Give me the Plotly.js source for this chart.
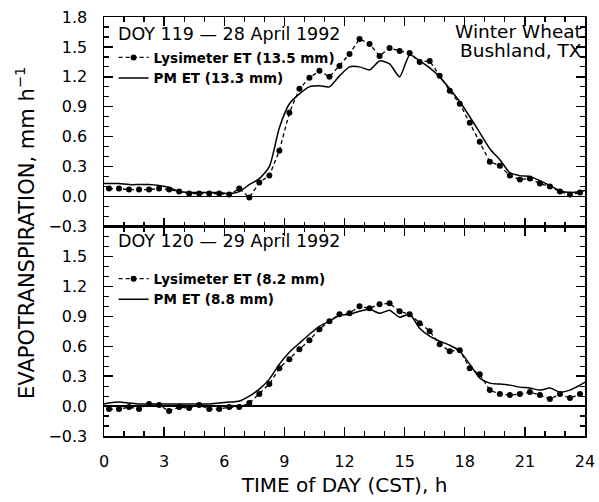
<!DOCTYPE html>
<html>
<head>
<meta charset="utf-8">
<script src="https://cdn.plot.ly/plotly-3.0.1.min.js"></script>
<style>
html,body{margin:0;padding:0;background:#fff;}
#chart{width:599px;height:502px;}
</style>
</head>
<body>
<div id="chart"></div>
<script>
// Half-hourly lysimeter times (h, CST)
const hours = [0.25,0.75,1.25,1.75,2.25,2.75,3.25,3.75,4.25,4.75,5.25,5.75,6.25,6.75,7.25,7.75,8.25,8.75,9.25,9.75,10.25,10.75,11.25,11.75,12.25,12.75,13.25,13.75,14.25,14.75,15.25,15.75,16.25,16.75,17.25,17.75,18.25,18.75,19.25,19.75,20.25,20.75,21.25,21.75,22.25,22.75,23.25,23.75];
// PM model times (h, CST)
const pmHours = [0,0.25,0.75,1.25,1.75,2.25,2.75,3.25,3.75,4.25,4.75,5.25,5.75,6.25,6.75,7.25,7.75,8.25,8.75,9.25,9.75,10.25,10.75,11.25,11.75,12.25,12.75,13.25,13.75,14.25,14.75,15.25,15.75,16.25,16.75,17.25,17.75,18.25,18.75,19.25,19.75,20.25,20.75,21.25,21.75,22.25,22.75,23.25,23.75,24];

// DOY 119 - 28 April 1992
const lysET119 = [0.08,0.08,0.07,0.07,0.07,0.08,0.07,0.05,0.03,0.03,0.03,0.03,0.02,0.08,-0.01,0.14,0.21,0.46,0.84,1.08,1.19,1.26,1.20,1.31,1.43,1.58,1.53,1.41,1.49,1.46,1.44,1.35,1.36,1.21,1.06,0.93,0.74,0.55,0.35,0.31,0.21,0.17,0.18,0.13,0.10,0.05,0.02,0.04];
const pmET119 = [0.13,0.13,0.13,0.12,0.12,0.12,0.11,0.09,0.05,0.04,0.04,0.04,0.04,0.03,0.05,0.12,0.18,0.30,0.69,0.93,1.03,1.10,1.11,1.10,1.21,1.30,1.30,1.27,1.36,1.33,1.20,1.42,1.36,1.29,1.20,1.08,0.95,0.80,0.64,0.48,0.37,0.24,0.21,0.20,0.16,0.11,0.06,0.04,0.05,0.06];

// DOY 120 - 29 April 1992
const lysET120 = [-0.03,-0.03,-0.01,-0.03,0.02,0.01,-0.05,-0.01,-0.02,0.01,-0.03,-0.03,-0.01,-0.01,0.03,0.12,0.22,0.38,0.47,0.57,0.66,0.77,0.85,0.92,0.93,1.00,0.98,1.02,1.03,0.95,0.92,0.83,0.75,0.62,0.55,0.56,0.38,0.32,0.16,0.12,0.11,0.12,0.14,0.11,0.07,0.12,0.08,0.12];
const pmET120 = [0.02,0.03,0.04,0.03,0.02,0.02,0.02,0.02,0.02,0.02,0.02,0.02,0.03,0.04,0.05,0.10,0.17,0.27,0.42,0.54,0.63,0.72,0.80,0.85,0.91,0.92,0.95,0.97,0.93,0.96,0.89,0.92,0.78,0.70,0.65,0.61,0.55,0.42,0.28,0.23,0.22,0.21,0.19,0.18,0.16,0.18,0.14,0.16,0.21,0.24];

const names119 = ['Lysimeter ET (13.5 mm)', 'PM ET (13.3 mm)'];
const names120 = ['Lysimeter ET (8.2 mm)', 'PM ET (8.8 mm)'];
const xTicks = [0,3,6,9,12,15,18,21,24];
const yTicksTop = [-0.3,0,0.3,0.6,0.9,1.2,1.5,1.8];
const yTicksBottom = [-0.3,0,0.3,0.6,0.9,1.2,1.5];

const FONT = 'DejaVu Sans, Arial, sans-serif';

const lysStyle = {mode:'lines+markers', line:{color:'#000', width:1.3, dash:'4px,3px'}, marker:{color:'#000', size:6, symbol:'circle'}};
const pmStyle = {mode:'lines', line:{color:'#000', width:1.5, shape:'spline', smoothing:0.6}};

const traces = [
  Object.assign({x:hours, y:lysET119, name:names119[0], xaxis:'x2', yaxis:'y2', legend:'legend'}, lysStyle),
  Object.assign({x:pmHours, y:pmET119, name:names119[1], xaxis:'x2', yaxis:'y2', legend:'legend'}, pmStyle),
  Object.assign({x:hours, y:lysET120, name:names120[0], xaxis:'x', yaxis:'y', legend:'legend2'}, lysStyle),
  Object.assign({x:pmHours, y:pmET120, name:names120[1], xaxis:'x', yaxis:'y', legend:'legend2'}, pmStyle)
];

const xBase = {
  range:[0,24], tickvals:xTicks, ticks:'inside', ticklen:9, tickwidth:1.3, tickcolor:'#000',
  minor:{dtick:1, ticks:'inside', ticklen:5, tickcolor:'#000', tickwidth:1.2},
  showline:true, linecolor:'#000', linewidth:1.5, mirror:'ticks',
  showgrid:false, zeroline:false, fixedrange:true
};
const yBase = {
  range:[-0.3,1.8], ticks:'inside', ticklen:9, tickwidth:1.3, tickcolor:'#000',
  minor:{dtick:0.1, tick0:0, ticks:'inside', ticklen:5, tickcolor:'#000', tickwidth:1.2},
  showline:true, linecolor:'#000', linewidth:1.5, mirror:'ticks',
  showgrid:false, zeroline:true, zerolinecolor:'#000', zerolinewidth:1.2,
  tickformat:'.1f', ticklabelstandoff:12, fixedrange:true
};

const legendBase = {xanchor:'left', yanchor:'top', bgcolor:'rgba(0,0,0,0)', borderwidth:0,
  font:{size:13.5, weight:'bold'}, tracegroupgap:0, itemwidth:30};

const layout = {
  width:599, height:502,
  margin:{l:104, r:14, t:17, b:66},
  paper_bgcolor:'#fff', plot_bgcolor:'#fff',
  font:{family:FONT, color:'#000', size:15},
  showlegend:true,
  xaxis: Object.assign({}, xBase, {anchor:'y', domain:[0,1], showticklabels:true, ticklabelstandoff:10,
    tickfont:{size:16},
    title:{text:'TIME of DAY (CST), h', font:{size:20}, standoff:8}}),
  xaxis2: Object.assign({}, xBase, {anchor:'y2', domain:[0,1], showticklabels:false, matches:'x'}),
  yaxis: Object.assign({}, yBase, {domain:[0,0.5], anchor:'x', tickvals:yTicksBottom, tickfont:{size:16}}),
  yaxis2: Object.assign({}, yBase, {domain:[0.5,1], anchor:'x2', tickvals:yTicksTop, tickfont:{size:16}}),
  legend: Object.assign({}, legendBase, {x:0.02, y:0.94}),
  legend2: Object.assign({}, legendBase, {x:0.02, y:0.412}),
  annotations:[
    {text:'EVAPOTRANSPIRATION, mm h<sup>−1</sup>', xref:'paper', yref:'paper', x:-0.164, y:0.485,
     xanchor:'center', yanchor:'middle', textangle:-90, showarrow:false, font:{size:21}},
    {text:'DOY 119 — 28 April 1992', xref:'x2 domain', yref:'y2 domain', x:0.025, y:0.921, xanchor:'left', yanchor:'middle',
     showarrow:false, font:{size:17.5}},
    {text:'Winter Wheat', xref:'x2 domain', yref:'y2 domain', x:1, y:0.933, xanchor:'right', yanchor:'middle',
     xshift:-1, showarrow:false, font:{size:18.5}},
    {text:'Bushland, TX', xref:'x2 domain', yref:'y2 domain', x:1, y:0.838, xanchor:'right', yanchor:'middle',
     xshift:-1, showarrow:false, font:{size:18.5}},
    {text:'DOY 120 — 29 April 1992', xref:'x domain', yref:'y domain', x:0.025, y:0.931, xanchor:'left', yanchor:'middle',
     showarrow:false, font:{size:17.5}}
  ]
};

Plotly.newPlot('chart', traces, layout, {displayModeBar:false, staticPlot:true});
</script>
</body>
</html>
